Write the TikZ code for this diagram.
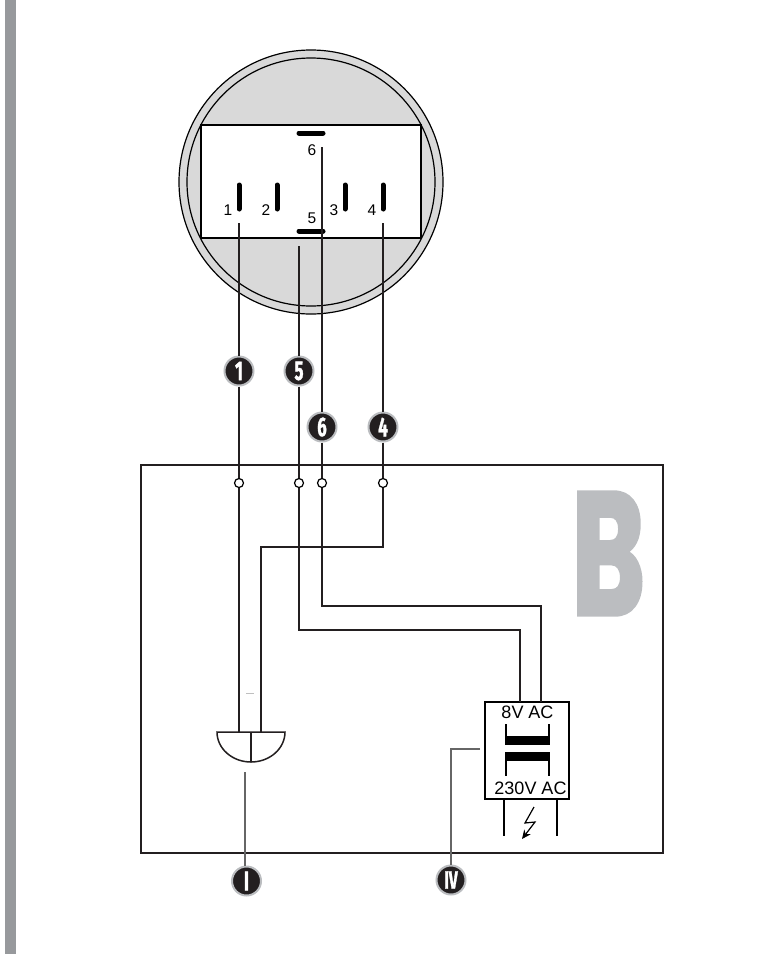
\documentclass[tikz,border=0pt]{standalone}
\usepackage{fontspec}
\setmainfont{Liberation Sans}
\newfontfamily\badgefont[FakeStretch=.62,FakeBold=1.2]{Fira Sans}
\newfontfamily\blockfont[FakeStretch=.63,FakeBold=2]{Poppins}
\usetikzlibrary{arrows.meta}
\definecolor{sidegray}{HTML}{97999C}
\definecolor{lettergray}{HTML}{BBBDC0}
\definecolor{facegray}{HTML}{D9D9D9}
\definecolor{inkblack}{HTML}{231F20}
\definecolor{leadgray}{HTML}{666666}
\tikzset{
	wire/.style={line width=1.5pt,draw=inkblack},
	lead/.style={line width=1.5pt,draw=leadgray},
	pin/.style={line width=5pt,line cap=round,draw=black},
	pinnum/.style={inner sep=0pt,font=\fontsize{15.5}{15.5}\selectfont},
	terminal/.style={circle,draw=black,fill=white,line width=1.2pt,minimum size=9pt,inner sep=0pt},
	badge/.style={circle,draw=lettergray,fill=inkblack,line width=2pt,minimum size=29pt,inner sep=0pt,text=white,font=\badgefont\bfseries\fontsize{27}{27}\selectfont},
	acvolt/.style={inner sep=0pt,font=\fontsize{18}{18}\selectfont}
}
\begin{document}
\begin{tikzpicture}[x=1pt,y=-1pt]
	\useasboundingbox (0,0) rectangle (783,954);
	\fill[sidegray] (5,0) rectangle (15.5,954);
	% socket
	\def\radius{132}
	\coordinate (cen) at (311,182);
	\draw[line width=1.2pt,fill=facegray] (cen) circle (\radius);
	\draw[line width=1.2pt] (cen) circle (\radius-8);
	\draw[line width=1.2pt,fill=white] (201,125) rectangle (421,238);
	\foreach \n/\x in {1/239,2/277,3/345,4/383}{
		\draw[pin] (\x,185) -- (\x,209);
		\node[pinnum,xshift=-11pt] at (\x,210.5) {\n};
	}
	\draw[pin] (299,231) -- (323,231);
	\draw[pin] (299,133) -- (323,133);
	\node[pinnum] at (312,218) {5};
	\node[pinnum] at (312,150) {6};
	% wire ends
	\coordinate (topi) at (239,223);
	\coordinate (topv) at (299,246);
	\coordinate (topvi) at (322,147);
	\coordinate (topiv) at (383,223);
	% control box
	\draw[line width=1.2pt,draw=inkblack] (141,465) rectangle (663,853);
	\node[text=lettergray,inner sep=0pt,font=\blockfont\bfseries\fontsize{175}{175}\selectfont] (letter) at (608.5,553.5) {B};
	\node[badge] (bi) at (239,371) {1};
	\node[badge] (bv) at (299,371) {5};
	\node[badge] (bvi) at (322,427) {6};
	\node[badge] (biv) at (383,427) {4};
	\node[terminal] (ti) at (239,483) {};
	\node[terminal] (tv) at (299,483) {};
	\node[terminal] (tvi) at (322,483) {};
	\node[terminal] (tiv) at (383,483) {};
	\draw[wire] (topi) -- (bi) -- (ti);
	\draw[wire] (topv) -- (bv) -- (tv);
	\draw[wire] (topvi) -- (bvi) -- (tvi);
	\draw[wire] (topiv) -- (biv) -- (tiv);
	% bell
	\coordinate (belli) at (239,732);
	\coordinate (belliv) at (261,732);
	\draw[wire,fill=white] (217,732) -- (285,732) arc[start angle=0,end angle=180,x radius=34,y radius=30] -- cycle;
	\draw[line width=2pt,draw=inkblack] (251,732) -- (251,762);
	\draw[wire] (ti) -- (belli);
	\draw[wire] (tiv) -- (383,547) -| (belliv);
	\draw[line width=.6pt,draw=black!25] (246,693) -- (254,693);
	% transformer
	\node[draw=black,line width=1.2pt,minimum width=84pt,minimum height=97pt,inner sep=0pt] (trafo) at (527,750.5) {};
	\node[acvolt] (lowv) at (527.5,712) {8V AC};
	\node[acvolt] (highv) at (530.5,788) {230V AC};
	\fill[black] (505,736) rectangle (550,745);
	\fill[black] (505,752) rectangle (550,761);
	\draw[line width=1.2pt] (506,736) -- (506,724) (549,736) -- (549,724) (506,761) -- (506,776) (549,761) -- (549,776);
	\coordinate (sec1) at (520,702);
	\coordinate (sec2) at (541,702);
	\draw[wire] (tv) |- (520,630) -- (sec1);
	\draw[wire] (tvi) |- (541,606) -- (sec2);
	\draw[line width=1.2pt] (504,799) -- (504,836) (557,799) -- (557,836);
	\draw[line width=1.2pt,-{Stealth[length=9pt,width=8pt]}] (534,807) -- (525,823) -- (535,822) -- (522,839);
	% reference leads
	\node[badge] (bI) at (246.5,881) {I};
	\node[badge,font=\badgefont\bfseries\fontsize{25}{25}\selectfont] (bIV) at (451,880) {IV};
	\coordinate (bellend) at (245,772);
	\coordinate (trafoend) at (480,749);
	\draw[lead] (bellend) -- (bellend |- bI.north);
	\draw[lead] (trafoend) -| (bIV);
\end{tikzpicture}
\end{document}
